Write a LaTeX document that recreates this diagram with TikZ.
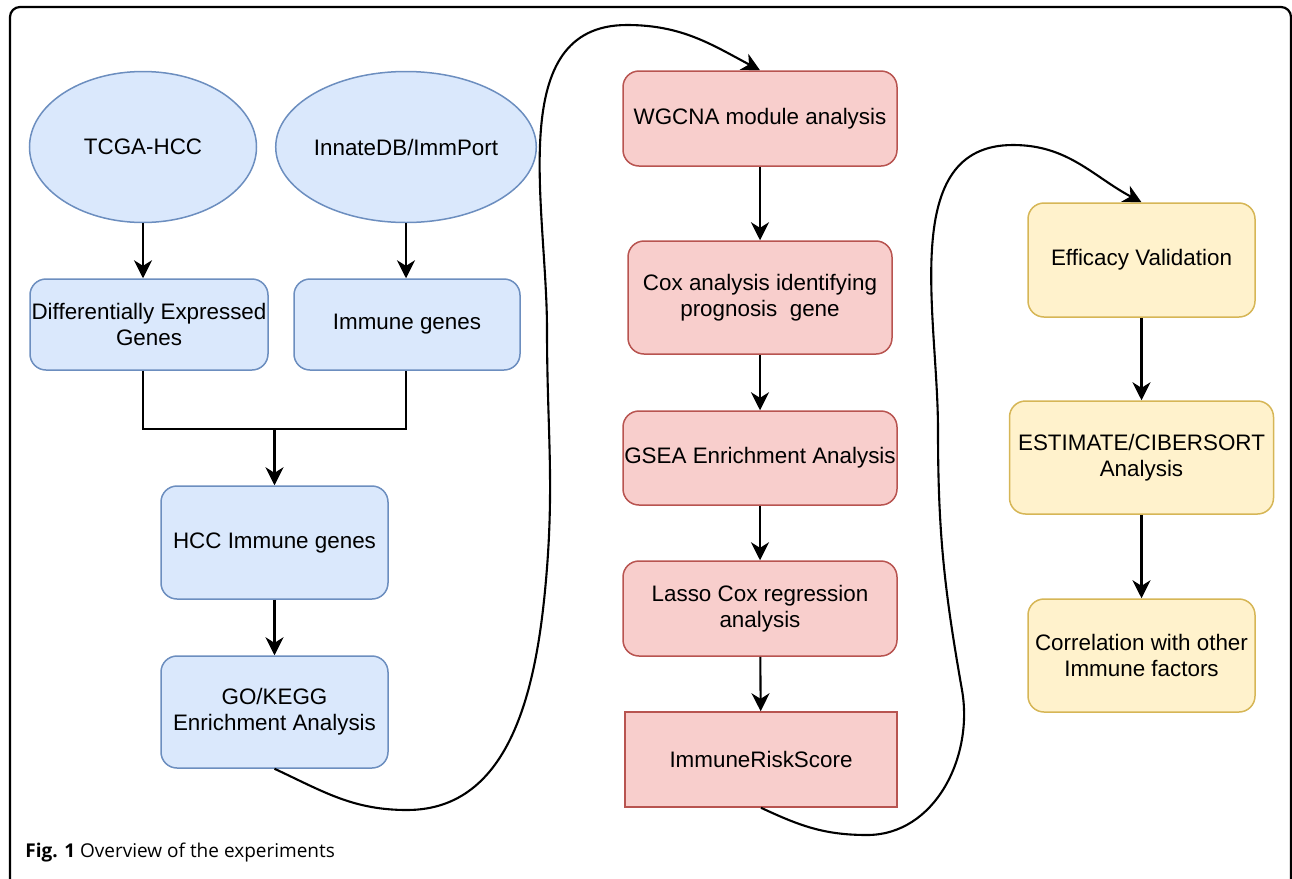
\documentclass[tikz,border=0pt]{standalone}
\usepackage{fontspec}
\setmainfont{Liberation Sans}
\newfontfamily\capfont{Open Sans}
\usetikzlibrary{arrows.meta,shapes.geometric}
\definecolor{bfill}{HTML}{DAE8FC}
\definecolor{bdraw}{HTML}{6C8EBF}
\definecolor{rfill}{HTML}{F8CECC}
\definecolor{rdraw}{HTML}{B85450}
\definecolor{yfill}{HTML}{FFF2CC}
\definecolor{ydraw}{HTML}{D6B656}
\begin{document}
\begin{tikzpicture}[x=0.5pt,y=0.5pt,
  sz/.style 2 args={minimum width=#1*0.5pt,minimum height=#2*0.5pt},
  base/.style={draw, line width=0.75pt, align=center, inner sep=0pt,
    font=\fontsize{11.2}{13}\selectfont},
  box/.style={base, rounded corners=8pt},
  bluebox/.style={box, draw=bdraw, fill=bfill},
  redbox/.style={box, draw=rdraw, fill=rfill},
  yelbox/.style={box, draw=ydraw, fill=yfill},
  blueell/.style={base, ellipse, draw=bdraw, fill=bfill},
  arr/.style={-{Stealth[length=9pt,width=9pt,inset=2.8pt]}, line width=1.05pt},
  conn/.style={line width=1.05pt},
]
\useasboundingbox (0,0) rectangle (1292,-879);
\begin{scope}
\clip (0,0) rectangle (1292,-879);
\draw[line width=1.1pt, rounded corners=5pt] (10,-7) rectangle (1291,-920);
\end{scope}

% left column
\node[blueell, sz={227}{151}] (tcga) at (143,-147) {TCGA-HCC};
\node[blueell, sz={227}{151}] (innate) at (406,-147) {InnateDB/ImmPort};
\node[bluebox, sz={238}{91}] (deg) at (149,-324.5) {Differentially Expressed\\Genes};
\node[bluebox, sz={226}{91}] (imm) at (407,-324.5) {Immune genes};
\node[bluebox, sz={227}{113}] (hcc) at (274.5,-542.5) {HCC Immune genes};
\node[bluebox, sz={227}{112}] (go) at (274.5,-712) {GO/KEGG\\Enrichment Analysis};
\coordinate (mid) at (274.5,-429);

% middle column
\node[redbox, sz={274}{95}] (wg) at (760,-118.5) {WGCNA module analysis};
\node[redbox, sz={264}{113}] (cox) at (760,-297.5) {Cox analysis identifying\\prognosis\ \ gene};
\node[redbox, sz={274}{94}] (gsea) at (760,-458) {GSEA Enrichment Analysis};
\node[redbox, sz={274}{95}] (lasso) at (760,-608.5) {Lasso Cox regression\\analysis};
\node[base, draw=rdraw, fill=rfill, sz={272}{95}] (irs) at (761,-759.5) {ImmuneRiskScore};

% right column
\node[yelbox, sz={227}{114}] (eff) at (1141.5,-260) {Efficacy Validation};
\node[yelbox, sz={264}{113}] (est) at (1141.5,-457.5) {ESTIMATE/CIBERSORT\\Analysis};
\node[yelbox, sz={227}{113}] (cor) at (1141.5,-655.5) {Correlation with other\\Immune factors};

% connectors
\draw[arr] (tcga.south) -- (tcga.south |- deg.north);
\draw[arr] (innate.south) -- (innate.south |- imm.north);
\draw[conn] (tcga.south |- deg.south) -- (tcga.south |- mid) -- (innate.south |- mid) -- (innate.south |- imm.south);
\draw[arr] (mid) -- (hcc.north);
\draw[arr] (hcc) -- (go);
\draw[arr] (wg) -- (cox);
\draw[arr] (cox) -- (gsea);
\draw[arr] (gsea) -- (lasso);
\draw[arr] (lasso) -- (irs);
\draw[arr] (eff) -- (est);
\draw[arr] (est) -- (cor);

\draw[arr] (go.south) to[out=-25,in=180] (407,-810) to[out=0,in=-95] (546,-580)
  to[out=85,in=-90] (547,-330) to[out=90,in=180] (627,-25) to[out=0,in=152] (wg.north);
\draw[arr] (irs.south) to[out=-25,in=180] (867,-835) to[out=0,in=-80] (962,-690)
  to[out=100,in=-90] (938,-430) to[out=90,in=180] (1013,-145) to[out=0,in=152] (eff.north);

% caption
\node[anchor=base west, inner sep=0pt, font=\capfont\fontsize{9.5}{11}\selectfont] (cap) at (25,-857)
  {\textbf{Fig. 1} Overview of the experiments};
\end{tikzpicture}
\end{document}
